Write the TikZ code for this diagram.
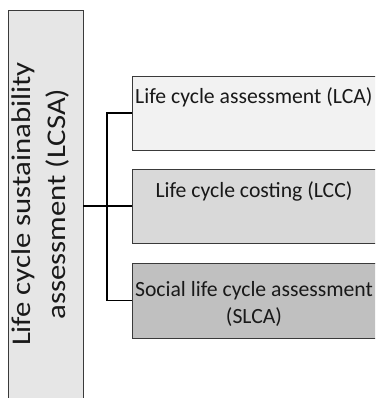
\documentclass[tikz,border=0pt]{standalone}
\usepackage{fontspec}
\setmainfont{Carlito}
\newfontfamily\widefont[FakeStretch=1.14]{Carlito}
\usetikzlibrary{calc,positioning}
\definecolor{boxline}{HTML}{3A3A3A}
\definecolor{lcsafill}{HTML}{E6E6E6}
\definecolor{lcafill}{HTML}{F2F2F2}
\definecolor{lccfill}{HTML}{D9D9D9}
\definecolor{slcafill}{HTML}{C0C0C0}
\tikzset{
	block/.style={draw=boxline,line width=0.9pt,minimum width=246pt,minimum height=74pt,anchor=center,inner sep=0pt},
	blocktext/.style={font=\fontsize{21.7}{27}\selectfont,text=black!90,inner sep=0pt},
	link/.style={line width=1.6pt,black}
}
\begin{document}
\begin{tikzpicture}[x=1pt,y=-1pt]
						\useasboundingbox (0,0) rectangle (375,398);
						\clip (0,0) rectangle (375,398);
						\node (lcsa) at (45.5,210) [draw=boxline,line width=0.9pt,fill=lcsafill,minimum width=75pt,minimum height=400pt,inner sep=0pt] {};
						\node (lcsatext) at (65,204) [rotate=90,anchor=base,align=center,font=\widefont\fontsize{27}{35}\selectfont,text=black!90,inner sep=0pt] {Life cycle sustainability\\assessment (LCSA)};
						\node (lca) at (255,113) [block,fill=lcafill] {};
						\node (lcc) at (255,206) [block,fill=lccfill] {};
						\node (slca) at (255,300.5) [block,fill=slcafill,minimum height=75pt] {};
						\node (lcatext) at (135,104) [blocktext,anchor=base west] {Life cycle assessment (LCA)};
						\node (lcctext) at (254,197) [blocktext,anchor=base] {Life cycle costing (LCC)};
						\node (slcatext) at (254,323) [blocktext,anchor=base,align=center] {Social life cycle assessment\\(SLCA)};
						
						\coordinate (split) at (107,206);
						\draw[link] (lca.west) -| (split) |- (slca.west);
						\draw[link] (lcc.west -| lcsa.east) -- (lcc.west);
					\end{tikzpicture}
\end{document}
